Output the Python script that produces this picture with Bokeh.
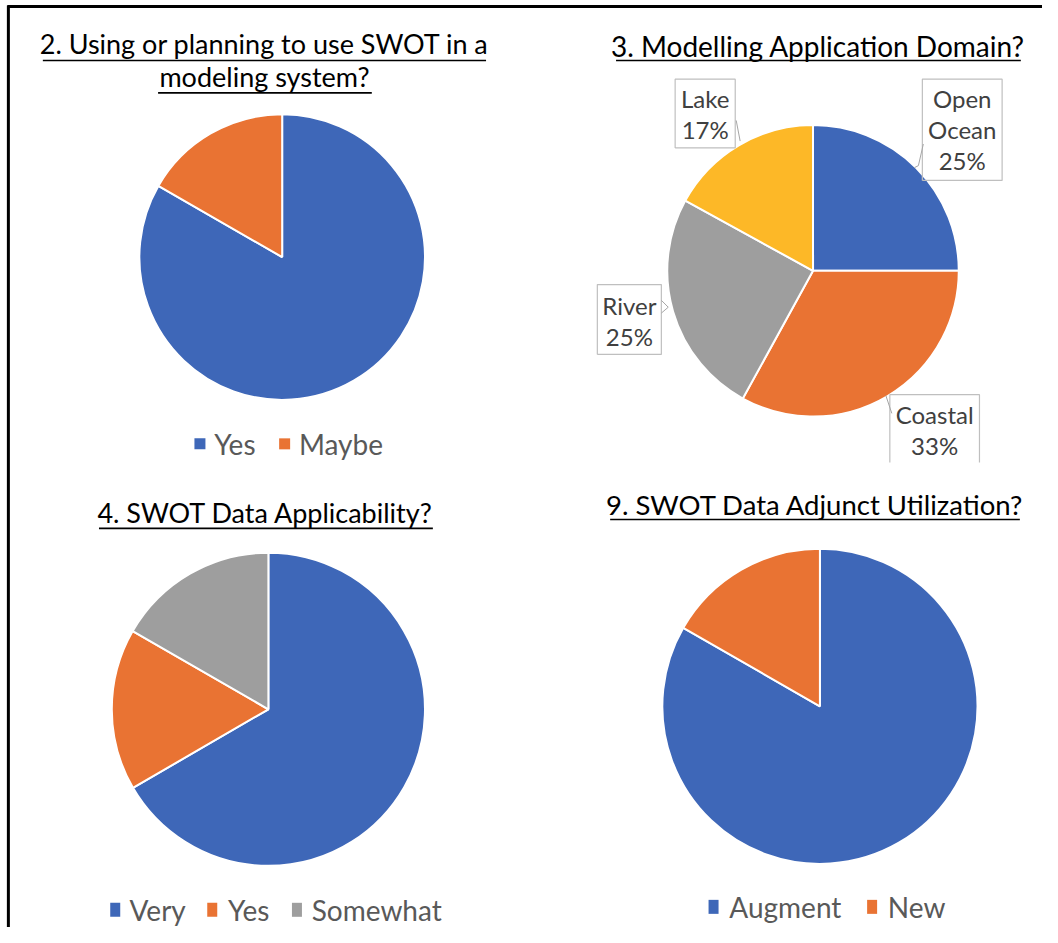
import math
from bokeh.plotting import figure
from bokeh.models import Range1d, ColumnDataSource
from bokeh.core.properties import value
from bokeh.embed import file_html
from bokeh.resources import INLINE

# ---------------- data ----------------
q2_title = ["2. Using or planning to use SWOT in a", "modeling system?"]
q2_labels = ["Yes", "Maybe"]
q2_values = [83.3, 16.7]

q3_title = ["3. Modelling Application Domain?"]
q3_labels = ["Open Ocean", "Coastal", "River", "Lake"]
q3_values = [25, 33, 25, 17]

q4_title = ["4. SWOT Data Applicability?"]
q4_labels = ["Very", "Yes", "Somewhat"]
q4_values = [66.7, 16.7, 16.7]

q9_title = ["9. SWOT Data Adjunct Utilization?"]
q9_labels = ["Augment", "New"]
q9_values = [83.3, 16.7]

palette = ["#3E67B8", "#E97333", "#9E9E9E", "#FDB827"]

FONT = value("Lato")
W, H = 1058, 943


def Y(y):
    return H - y


p = figure(width=1042, height=927, x_range=Range1d(0, W), y_range=Range1d(0, H),
           output_backend="svg", toolbar_location=None,
           x_axis_location=None, y_axis_location=None, min_border=0)
p.grid.visible = False
p.outline_line_color = None
p.background_fill_color = "white"
p.border_fill_color = "white"

# frame lines (top and left)
p.segment(x0=[7], y0=[Y(6)], x1=[W], y1=[Y(6)], line_color="black", line_width=3)
p.segment(x0=[8], y0=[Y(5)], x1=[8], y1=[Y(H)], line_color="black", line_width=3)


def pie(cx, cy, r, values, colors):
    tot = sum(values)
    starts, ends = [], []
    c = 0.0
    for v in values:
        starts.append(math.pi / 2 - 2 * math.pi * c / tot)
        c += v
        ends.append(math.pi / 2 - 2 * math.pi * c / tot)
    src = ColumnDataSource(dict(x=[cx] * len(values), y=[Y(cy)] * len(values),
                                s=starts, e=ends, c=colors[:len(values)]))
    p.wedge(x="x", y="y", radius=r, start_angle="s", end_angle="e", direction="clock",
            fill_color="c", line_color="white", line_width=2, source=src)


def title(lines, cx, ys, size, underlines):
    p.text(x=[cx] * len(lines), y=[Y(y) for y in ys], text=lines, text_font=FONT,
           text_font_size=size, text_align="center", text_baseline="middle",
           text_color="black")
    for (x0, x1, y) in underlines:
        p.segment(x0=[x0], y0=[Y(y)], x1=[x1], y1=[Y(y)], line_color="black", line_width=1.6)


def legend(labels, colors, sq_x, txt_x, y, size, sw, sh):
    p.rect(x=sq_x, y=[Y(y)] * len(labels), width=sw, height=sh,
           width_units="screen", height_units="screen",
           fill_color=colors[:len(labels)], line_color=None)
    p.text(x=txt_x, y=[Y(y)] * len(labels), text=labels, text_font=FONT,
           text_font_size=size, text_align="left", text_baseline="middle",
           text_color="#595959")


# ---- Q2 ----
title(q2_title, 268, [44, 77], "27px", [(43, 493, 61), (160, 377, 94)])
pie(286, 261, 145, q2_values, palette)
legend(q2_labels, palette, [202.5, 288.5], [217, 303], 451, "28px", 11, 11)

# ---- Q3 ----
title(q3_title, 830, [46], "28px", [(625, 1036, 61)])
pie(825, 275, 148, q3_values, palette)
# data label callouts
boxes = {  # left, top, right, bottom (None = clipped)
    "Open Ocean": (936, 80, 1017, 183),
    "Coastal": (903, 401, 994, None),
    "River": (606, 289, 671, 360),
    "Lake": (685, 80, 746, 150),
}
line_y0 = {"Open Ocean": 100, "Coastal": 421, "River": 310, "Lake": 100}
leaders = {
    "Open Ocean": ([937, 932, 928], [146, 168, 170]),
    "Coastal": ([899, 905], [402, 420]),
    "River": ([671, 678, 671], [305, 312, 318]),
    "Lake": ([747, 751], [122, 143]),
}
for lab, v in zip(q3_labels, q3_values):
    l, t, rr, b = boxes[lab]
    bb = b if b is not None else 470
    xs = [l, l, rr, rr] if b is None else [l, l, rr, rr, l]
    ys = [bb, t, t, bb] if b is None else [bb, t, t, bb, bb]
    p.line(x=xs, y=[Y(y) for y in ys], line_color="#BFBFBF", line_width=1.2)
    lx, ly = leaders[lab]
    p.line(x=lx, y=[Y(y) for y in ly], line_color="#A6A6A6", line_width=1)
    lines = lab.split(" ") + [f"{v}%"]
    cx = (l + rr) / 2
    p.text(x=[cx] * len(lines), y=[Y(line_y0[lab] + 31.5 * i) for i in range(len(lines))],
           text=lines, text_font=FONT, text_font_size="24px", text_align="center",
           text_baseline="middle", text_color="#404040")

# ---- Q4 ----
title(q4_title, 269, [521], "27px", [(100, 439, 537)])
pie(272, 721, 159, q4_values, palette)
legend(q4_labels, palette, [116.5, 215, 301], [131, 231, 316], 925, "28px", 10, 14)

# ---- Q9 ----
title(q9_title, 827, [513], "27.5px", [(619, 1035, 528)])
pie(832, 718, 160, q9_values, palette)
legend(q9_labels, palette, [724, 885], [740, 901], 922, "28px", 10, 14)

open("out.html", "w").write(file_html(p, INLINE))
